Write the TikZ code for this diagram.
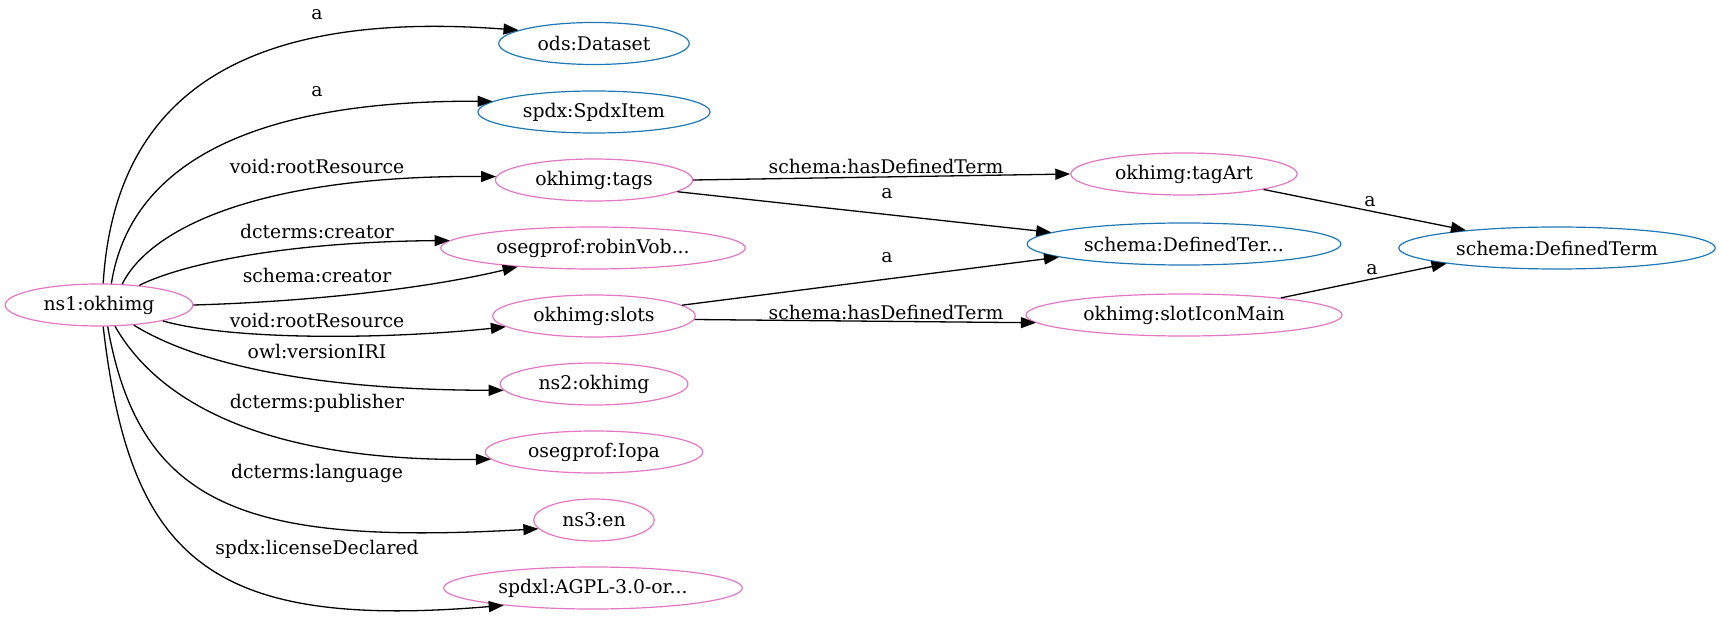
\documentclass[tikz,border=0pt]{standalone}
\usepackage{fontspec}
\setmainfont{DejaVu Serif}
\usetikzlibrary{arrows.meta,shapes.geometric}
\definecolor{respink}{RGB}{227,119,194}
\definecolor{clsblue}{RGB}{31,119,180}

\begin{document}
\begin{tikzpicture}[x=1pt,y=-1pt,
    res/.style={ellipse,draw=respink,line width=1.2pt,inner xsep=11pt,inner ysep=0pt,
      minimum height=42pt,font=\fontsize{18.8}{22}\selectfont},
    cls/.style={res,draw=clsblue},
    edge/.style={-{Triangle[length=15pt,width=11pt]},line width=1.3pt},
    lbl/.style={font=\fontsize{18.8}{22}\selectfont,inner sep=0pt}]
    \useasboundingbox (0,0) rectangle (1721,617);

    \node[res] (ns1) at (99,305) {ns1:okhimg};
    \node[cls] (ods) at (594,43.5) {ods:Dataset};
    \node[cls] (spdxitem) at (594,112) {spdx:SpdxItem};
    \node[res] (tags) at (594,180) {okhimg:tags};
    \node[res] (robin) at (593,248) {osegprof:robinVob...};
    \node[res] (slots) at (594,316) {okhimg:slots};
    \node[res] (ns2) at (594,384) {ns2:okhimg};
    \node[res] (iopa) at (594,452) {osegprof:Iopa};
    \node[res] (ns3) at (594,520) {ns3:en};
    \node[res] (agpl) at (593,588) {spdxl:AGPL-3.0-or...};
    \node[res] (tagart) at (1184,174) {okhimg:tagArt};
    \node[cls] (dterm1) at (1184,244) {schema:DefinedTer...};
    \node[res] (sloticon) at (1184,315) {okhimg:slotIconMain};
    \node[cls] (dterm) at (1557,248) {schema:DefinedTerm};

    % from ns1
    \draw[edge] (ns1.79) .. controls (115,90) and (250,10) .. (ods.170);
    \draw[edge] (ns1.60) .. controls (130,165) and (250,100) .. (spdxitem.174);
    \draw[edge] (ns1.42) .. controls (150,228) and (260,175) .. (tags.178);
    \draw[edge] (ns1.26) .. controls (180,265) and (280,242) .. (robin.177);
    \draw[edge] (ns1.east) .. controls (300,302) and (420,290) .. (robin.-166);
    \draw[edge] (ns1.-14) .. controls (230,340) and (380,340) .. (slots.-173);
    \draw[edge] (ns1.-30) .. controls (190,360) and (300,390) .. (ns2.-176);
    \draw[edge] (ns1.-53) .. controls (160,405) and (270,462) .. (iopa.-176);
    \draw[edge] (ns1.-68) .. controls (140,510) and (250,545) .. (ns3.-171);
    \draw[edge] (ns1.-79) .. controls (130,560) and (210,630) .. (agpl.-169);
    \node[lbl] (l1) at (317,15) {a};
    \node[lbl] (l2) at (317,92) {a};
    \node[lbl] (l3) at (317,166) {void:rootResource};
    \node[lbl] (l4) at (317,231) {dcterms:creator};
    \node[lbl] (l5) at (317,275) {schema:creator};
    \node[lbl] (l6) at (317,320) {void:rootResource};
    \node[lbl] (l7) at (317,351) {owl:versionIRI};
    \node[lbl] (l8) at (317,403) {dcterms:publisher};
    \node[lbl] (l9) at (317,473) {dcterms:language};
    \node[lbl] (l10) at (317,549) {spdx:licenseDeclared};

    % right part
    \draw[edge] (tags.east) -- (tagart.west);
    \draw[edge] (tags.-8) -- (dterm1.175);
    \draw[edge] (slots.7) -- (dterm1.-174);
    \draw[edge] (slots.-2) -- (sloticon.-177);
    \draw[edge] (tagart.-11) -- (dterm.169);
    \draw[edge] (sloticon.10) -- (dterm.-172);
    \node[lbl] (l11) at (886,166) {schema:hasDefinedTerm};
    \node[lbl] (l12) at (887,194) {a};
    \node[lbl] (l13) at (887,258) {a};
    \node[lbl] (l14) at (886,312) {schema:hasDefinedTerm};
    \node[lbl] (l15) at (1370,202) {a};
    \node[lbl] (l16) at (1372,270) {a};
\end{tikzpicture}
\end{document}
